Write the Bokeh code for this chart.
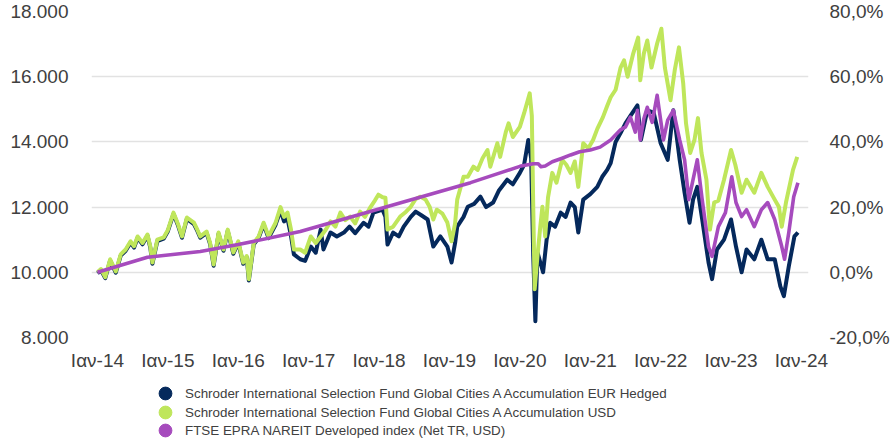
from bokeh.plotting import figure
from bokeh.layouts import column
from bokeh.models import (Range1d, LinearAxis, FixedTicker, Legend, LegendItem,
                          ColumnDataSource)
from bokeh.embed import file_html
from bokeh.resources import INLINE

# ---------------- data ----------------
x_ticks = [2014, 2015, 2016, 2017, 2018, 2019, 2020, 2021, 2022, 2023, 2024]
x_labels = ["Ιαν-14", "Ιαν-15", "Ιαν-16", "Ιαν-17", "Ιαν-18", "Ιαν-19",
            "Ιαν-20", "Ιαν-21", "Ιαν-22", "Ιαν-23", "Ιαν-24"]
left_ticks = [8000, 10000, 12000, 14000, 16000, 18000]
left_labels = ["8.000", "10.000", "12.000", "14.000", "16.000", "18.000"]
right_ticks = [-20, 0, 20, 40, 60, 80]
right_labels = ["-20,0%", "0,0%", "20,0%", "40,0%", "60,0%", "80,0%"]

series_names = [
    "Schroder International Selection Fund Global Cities A Accumulation EUR Hedged",
    "Schroder International Selection Fund Global Cities A Accumulation USD",
    "FTSE EPRA NAREIT Developed index (Net TR, USD)",
]

# EUR hedged share class (navy)
eur_t = [2014.00, 2014.05, 2014.11, 2014.18, 2014.26, 2014.33, 2014.40, 2014.47, 2014.52, 2014.57,
         2014.64, 2014.71, 2014.75, 2014.78, 2014.85, 2014.94, 2015.00, 2015.08, 2015.14, 2015.20,
         2015.27, 2015.37, 2015.42, 2015.46, 2015.55, 2015.60, 2015.65, 2015.72, 2015.79, 2015.85,
         2015.93, 2016.00, 2016.07, 2016.12, 2016.15, 2016.22, 2016.29, 2016.36, 2016.43, 2016.53,
         2016.60, 2016.65, 2016.70, 2016.75, 2016.79, 2016.88, 2016.95, 2017.03, 2017.10, 2017.17,
         2017.21, 2017.31, 2017.40, 2017.50, 2017.58, 2017.66, 2017.78, 2017.85, 2017.92, 2018.05,
         2018.09, 2018.12, 2018.20, 2018.28, 2018.35, 2018.45, 2018.52, 2018.60, 2018.69, 2018.77,
         2018.87, 2018.97, 2019.03, 2019.08, 2019.11, 2019.20, 2019.26, 2019.35, 2019.44, 2019.52,
         2019.62, 2019.70, 2019.82, 2019.90, 2020.00, 2020.06, 2020.12, 2020.16, 2020.19, 2020.22,
         2020.25, 2020.33, 2020.38, 2020.43, 2020.50, 2020.58, 2020.65, 2020.72, 2020.78, 2020.83,
         2020.90, 2021.00, 2021.10, 2021.17, 2021.24, 2021.29, 2021.36, 2021.43, 2021.50, 2021.57,
         2021.67, 2021.72, 2021.81, 2021.90, 2022.00, 2022.10, 2022.18, 2022.27, 2022.34, 2022.41,
         2022.46, 2022.52, 2022.59, 2022.68, 2022.73, 2022.80, 2022.90, 2023.00, 2023.07, 2023.15,
         2023.22, 2023.33, 2023.43, 2023.52, 2023.62, 2023.70, 2023.75, 2023.82, 2023.90, 2023.95]
eur_v = [9970, 10060, 9820, 10360, 9990, 10510, 10660, 10910, 10760, 11060,
         10860, 11120, 10760, 10260, 10960, 11030, 11260, 11790, 11460, 11060,
         11640, 11480, 11260, 11060, 11210, 10860, 10200, 11180, 10660, 11270,
         10570, 10910, 10260, 10460, 9750, 10860, 11060, 11470, 11050, 11460,
         11900, 11560, 11650, 11100, 10550, 10400, 10350, 10790, 10600, 11310,
         10700, 11220, 11100, 11220, 11400, 11200, 11520, 11400, 11830, 11920,
         11700, 10850, 11220, 11100, 11400, 11700, 11860, 11750, 11620, 10790,
         11100, 10790, 10300, 10900, 11400, 11700, 12010, 12100, 12320, 12000,
         12140, 12500, 12840, 12700, 13050, 13300, 14060, 13500, 10500, 8500,
         10610, 10000, 11000, 11520, 11400, 11830, 11700, 12140, 12000, 11220,
         12230, 12400, 12620, 12930, 13140, 13350, 14000, 14270, 14570, 14800,
         15120, 14060, 14970, 14900, 13960, 13450, 14970, 13450, 12440, 11520,
         12230, 12620, 11620, 10300, 9790, 10700, 11000, 11620, 10790, 10000,
         10700, 10400, 11000, 10400, 10400, 9570, 9270, 10180, 11100, 11220]

# USD share class (light green)
usd_t = [2014.00, 2014.05, 2014.11, 2014.18, 2014.26, 2014.33, 2014.40, 2014.47, 2014.52, 2014.57,
         2014.64, 2014.71, 2014.75, 2014.78, 2014.85, 2014.94, 2015.00, 2015.08, 2015.14, 2015.20,
         2015.27, 2015.37, 2015.42, 2015.46, 2015.55, 2015.60, 2015.65, 2015.72, 2015.79, 2015.85,
         2015.93, 2016.00, 2016.07, 2016.12, 2016.15, 2016.22, 2016.29, 2016.36, 2016.43, 2016.53,
         2016.60, 2016.65, 2016.70, 2016.75, 2016.79, 2016.88, 2016.95, 2017.03, 2017.10, 2017.17,
         2017.24, 2017.31, 2017.38, 2017.45, 2017.52, 2017.59, 2017.66, 2017.73, 2017.80, 2017.88,
         2017.94, 2017.99, 2018.05, 2018.09, 2018.12, 2018.20, 2018.30, 2018.38, 2018.45, 2018.52,
         2018.59, 2018.66, 2018.72, 2018.77, 2018.82, 2018.90, 2018.97, 2019.03, 2019.08, 2019.11,
         2019.20, 2019.26, 2019.34, 2019.40, 2019.47, 2019.54, 2019.58, 2019.68, 2019.72, 2019.80,
         2019.84, 2019.90, 2020.00, 2020.06, 2020.14, 2020.17, 2020.19, 2020.21, 2020.25, 2020.29,
         2020.32, 2020.36, 2020.40, 2020.46, 2020.52, 2020.60, 2020.66, 2020.72, 2020.78, 2020.83,
         2020.90, 2020.97, 2021.04, 2021.10, 2021.18, 2021.24, 2021.29, 2021.36, 2021.43, 2021.48,
         2021.53, 2021.61, 2021.68, 2021.71, 2021.76, 2021.81, 2021.87, 2021.95, 2022.01, 2022.06,
         2022.14, 2022.20, 2022.26, 2022.32, 2022.36, 2022.42, 2022.48, 2022.53, 2022.58, 2022.65,
         2022.70, 2022.76, 2022.82, 2022.90, 2023.00, 2023.06, 2023.15, 2023.22, 2023.33, 2023.43,
         2023.52, 2023.62, 2023.68, 2023.72, 2023.78, 2023.88, 2023.94]
usd_v = [10000, 10100, 9850, 10400, 10030, 10550, 10700, 10950, 10800, 11100,
         10900, 11160, 10800, 10300, 11000, 11070, 11300, 11830, 11500, 11100,
         11680, 11525, 11300, 11100, 11250, 10900, 10240, 11220, 10700, 11310,
         10610, 10950, 10300, 10500, 9790, 10900, 11100, 11520, 11100, 11520,
         12000, 11700, 11830, 11300, 10700, 10700, 10600, 11100, 10900, 11100,
         11300, 11560, 11400, 11830, 11600, 11710, 11500, 11860, 11700, 12010,
         12200, 12380, 12300, 12290, 11310, 11400, 11710, 11850, 12010, 12250,
         12320, 12230, 12000, 11620, 11920, 11800, 11525, 10950, 11500, 12230,
         12930, 12930, 13240, 13140, 13500, 13750, 13240, 13960, 13540, 14300,
         14570, 14150, 14460, 14880, 15490, 14800, 12000, 9480, 10500, 11400,
         12010, 11100, 12300, 13050, 12750, 13450, 13300, 13050, 13400, 12620,
         13960, 13800, 14060, 14400, 14760, 15100, 15370, 15600, 16280, 16500,
         16000, 16710, 17200, 15890, 16700, 17110, 16280, 17020, 17470, 16280,
         15280, 16200, 16900, 15800, 14570, 13660, 14060, 14730, 13660, 12840,
         11310, 12140, 12200, 12840, 13750, 13300, 12440, 12840, 12440, 13050,
         12620, 12230, 12000, 11400, 12140, 13140, 13540]

# FTSE EPRA NAREIT Developed index (purple)
idx_t = [2014.00, 2014.71, 2015.46, 2016.00, 2016.88, 2018.06, 2019.30, 2019.72, 2020.00, 2020.19,
         2020.26, 2020.30, 2020.36, 2020.46, 2020.60, 2020.72, 2020.85, 2021.00, 2021.14, 2021.29,
         2021.43, 2021.50, 2021.57, 2021.64, 2021.67, 2021.71, 2021.76, 2021.81, 2021.88, 2021.95,
         2022.04, 2022.10, 2022.18, 2022.27, 2022.34, 2022.40, 2022.46, 2022.52, 2022.59, 2022.68,
         2022.73, 2022.82, 2022.92, 2023.01, 2023.07, 2023.15, 2023.22, 2023.33, 2023.43, 2023.52,
         2023.62, 2023.72, 2023.76, 2023.82, 2023.89, 2023.95]
idx_v = [10000, 10460, 10640, 10850, 11250, 11980, 12750, 13050, 13250, 13330,
         13330, 13240, 13260, 13390, 13500, 13600, 13700, 13750, 13840, 14060,
         14370, 14460, 14760, 14300, 14970, 14060, 14700, 15060, 14600, 15430,
         14060, 14670, 14970, 14060, 13450, 12230, 12840, 13450, 12230, 10790,
         10490, 11400, 11830, 12930, 12140, 11710, 11920, 11400, 11920, 12140,
         11620, 10790, 10400, 11220, 12320, 12750]

colors = ["#05295c", "#bfe65b", "#a64bbd"]

# ---------------- main chart ----------------
FONT = "Liberation Sans"
TXT = "#404040"

p = figure(width=893, height=373, output_backend="svg", toolbar_location=None,
           x_range=Range1d(2013.915, 2024.1), y_range=Range1d(8000, 18000),
           min_border_left=91, min_border_right=85, min_border_top=11, min_border_bottom=36)
p.outline_line_color = None
p.background_fill_color = "white"
p.border_fill_color = "white"

xa = p.xaxis[0]
xa.ticker = FixedTicker(ticks=x_ticks)
xa.major_label_overrides = {t: l for t, l in zip(x_ticks, x_labels)}
xa.axis_line_color = None
xa.major_tick_line_color = None
xa.minor_tick_line_color = None
xa.major_tick_out = 0
xa.major_label_standoff = 12
xa.major_label_text_font = FONT
xa.major_label_text_font_size = "19px"
xa.major_label_text_color = TXT

ya = p.yaxis[0]
ya.ticker = FixedTicker(ticks=left_ticks)
ya.major_label_overrides = {t: l for t, l in zip(left_ticks, left_labels)}
ya.axis_line_color = None
ya.major_tick_line_color = None
ya.minor_tick_line_color = None
ya.major_tick_out = 0
ya.major_label_standoff = 23
ya.major_label_text_font = FONT
ya.major_label_text_font_size = "19px"
ya.major_label_text_color = TXT

p.extra_y_ranges = {"pct": Range1d(-20, 80)}
ra = LinearAxis(y_range_name="pct")
ra.ticker = FixedTicker(ticks=right_ticks)
ra.major_label_overrides = {t: l for t, l in zip(right_ticks, right_labels)}
ra.axis_line_color = None
ra.major_tick_line_color = None
ra.minor_tick_line_color = None
ra.major_tick_out = 0
ra.major_label_standoff = 21
ra.major_label_text_font = FONT
ra.major_label_text_font_size = "19px"
ra.major_label_text_color = TXT
p.add_layout(ra, "right")

p.xgrid.grid_line_color = None
p.ygrid.ticker = FixedTicker(ticks=left_ticks)
p.ygrid.grid_line_color = "#e2e2e2"
p.ygrid.grid_line_width = 1.5

src_eur = ColumnDataSource(dict(t=eur_t, v=eur_v))
src_usd = ColumnDataSource(dict(t=usd_t, v=usd_v))
src_idx = ColumnDataSource(dict(t=idx_t, v=idx_v))
p.line("t", "v", source=src_eur, line_color=colors[0], line_width=4.0, line_join="round")
p.line("t", "v", source=src_usd, line_color=colors[1], line_width=4.0, line_join="round")
p.line("t", "v", source=src_idx, line_color=colors[2], line_width=3.6, line_join="round")

# ---------------- legend strip (one single-item legend per row) ----------------
lg = figure(width=893, height=67, output_backend="svg", toolbar_location=None,
            x_range=Range1d(0, 1), y_range=Range1d(0, 1),
            x_axis_type=None, y_axis_type=None,
            min_border_left=0, min_border_right=0, min_border_top=0, min_border_bottom=0)
lg.outline_line_color = None
lg.xgrid.visible = False
lg.ygrid.visible = False

row_offsets = [31, 12, -6]   # vertical placement of each legend row in the strip
for name, c, off in zip(series_names, colors, row_offsets):
    # one point outside the strip's range: only its legend marker is visible
    r = lg.scatter(x=[-5.0], y=[-5.0], marker="circle", size=13,
                   fill_color=c, line_color=c)
    leg = Legend(items=[LegendItem(label=name, renderers=[r])], location=(58, off),
                 orientation="vertical", glyph_width=32, glyph_height=32,
                 label_height=18, label_width=20, spacing=0, padding=0, margin=0,
                 label_standoff=4, label_text_font=FONT, label_text_font_size="13.4px",
                 label_text_color=TXT, border_line_color=None, background_fill_alpha=0)
    lg.add_layout(leg, "center")

page = column(p, lg, spacing=0)
open("out.html", "w").write(file_html(page, INLINE))
